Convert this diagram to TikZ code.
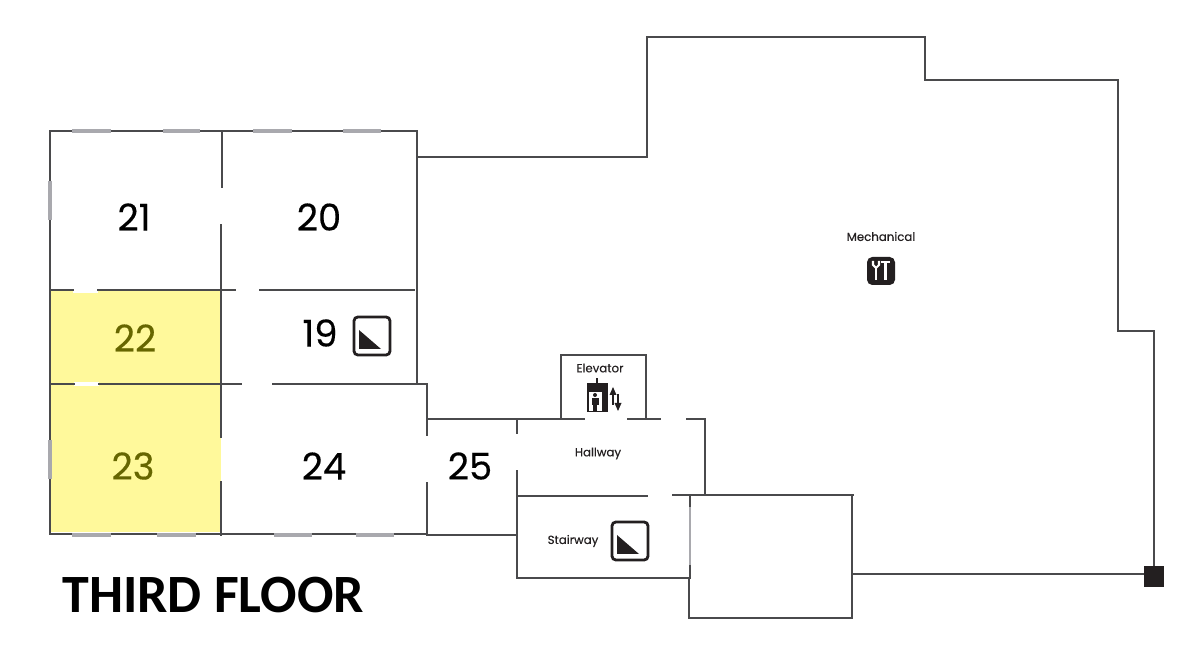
\documentclass[tikz,border=0pt]{standalone}
\usepackage{fontspec}
\setmainfont{Poppins}
\newfontfamily\titlefont{Carlito}
\newfontfamily\tagfont[FakeBold=0.35]{Poppins}
\definecolor{wallgray}{HTML}{4A4A4C}
\definecolor{doorgray}{HTML}{A9A9AE}
\definecolor{roomyellow}{HTML}{FFF99B}
\definecolor{iconblack}{HTML}{231F20}
\tikzset{
wall/.style={wallgray,line width=1.1pt,line cap=rect},
door/.style={doorgray,line width=1.9pt},
room/.style={font=\tagfont\fontsize{21}{21}\selectfont,text=black,inner sep=0pt},
roomlit/.style={room,text={rgb:red,4;green,4;blue,0;black,2}},
tag/.style={font=\tagfont\fontsize{6.7}{8}\selectfont,text=iconblack,inner sep=0pt},
stairicon/.pic={
    \draw[iconblack,line width=1.6pt,rounded corners=2.2pt] (-18,-19) rectangle (18,19);
    \fill[iconblack] (-13,-6) -- (-13,13) -- (9,13) -- cycle;
}
}
\begin{document}
\begin{tikzpicture}[x=0.02cm,y=-0.02cm]
    \useasboundingbox (0,0) rectangle (1200,661);
    %
    \fill[roomyellow] (51,291) rectangle (221,532);
    \fill[white] (73,289) rectangle (98,293);
    \fill[white] (74,382) rectangle (99,386);
    %
    % outer shell, clockwise from room 21
    \draw[wall] (50,533) -- (50,131) -- (417,131) -- (417,384);
    \draw[wall] (417,157) -- (647,157) -- (647,37) -- (925,37) -- (925,80)
    -- (1118,80) -- (1118,331) -- (1154,331) -- (1154,570);
    \draw[wall] (50,534) -- (427,534);
    \draw[wall] (427,535) -- (517,535);
    %
    % inner walls of the left block
    \foreach \xa / \ya / \xb / \yb in {222/131/222/187,221/225/221/437,221/482/221/535,
        50/290/73/290,98/290/235/290,260/290/414/290,
        50/384/74/384,99/384/241/384,273/384/427/384,
        427/384/427/435,427/483/427/535}
    \draw[wall] (\xa,\ya) -- (\xb,\yb);
    %
    % hallway and stairway
    \draw[wall] (427,419) -- (584,419);
    \draw[wall] (628,419) -- (660,419);
    \draw[wall] (687,419) -- (705,419) -- (705,495);
    \draw[wall] (517,419) -- (517,433);
    \draw[wall] (517,471) -- (517,578) -- (689,578);
    \draw[wall] (517,496) -- (647,496);
    \draw[wall] (561,419) -- (561,355) -- (646,355) -- (646,419);
    %
    % annex and east wing
    \draw[wall] (673,495) -- (853,495);
    \draw[wall] (690,495) -- (690,578);
    \draw[wall] (689,578) -- (689,618) -- (852,618) -- (852,495);
    \draw[wall] (852,574) -- (1150,574);
    \fill[iconblack] (1144,566) rectangle (1164,587);
    %
    \foreach \xa / \xb in {72/111,163/200,253/292,343/381}
    \draw[door] (\xa,131) -- (\xb,131);
    \foreach \xa / \xb in {72/111,157/196,274/312,356/394}
    \draw[door] (\xa,535) -- (\xb,535);
    \foreach \ya / \yb in {181/220,440/479}
    \draw[door] (50,\ya) -- (50,\yb);
    \draw[door,line width=1.2pt] (690,507) -- (690,565);
    %
    \node[room](r21) at (134,217) {21};
    \node[room](r20) at (319,217) {20};
    \node[roomlit](r22) at (135,338) {22};
    \node[room](r19) at (320,333) {19};
    \node[roomlit](r23) at (133,466) {23};
    \node[room](r24) at (324,466) {24};
    \node[room](r25) at (470,466) {25};
    %
    \node[tag](mechanical) at (881,236.5) {Mechanical};
    \node[tag](elevator) at (600,368) {Elevator};
    \node[tag](hallway) at (598,453.5) {Hallway};
    \node[tag](stairway) at (573,541) {Stairway};
    \node[anchor=west,inner sep=0pt,font=\titlefont\bfseries\fontsize{30.7}{31}\selectfont](title) at (62,595) {THIRD FLOOR};
    %
    \pic at (372,336) {stairicon};
    \pic at (630,541) {stairicon};
    %
    % mechanical icon
    \fill[iconblack,rounded corners=3pt] (867,257) rectangle (895,285);
    \draw[white,line width=1.4pt] (876,268) -- (876,280);
    \draw[white,line width=1.2pt] (873,261) -- (873,265) -- (876,268) -- (879,265) -- (879,261);
    \draw[white,line width=1.4pt] (885.5,262) -- (885.5,280);
    \draw[white,line width=1.4pt] (881,262) -- (890,262);
    %
    % elevator icon
    \fill[iconblack] (587,383) rectangle (608,412);
    \fill[white] (589,392) rectangle (601.5,411);
    \fill[iconblack] (595,395) circle (2);
    \fill[iconblack] (591.5,398) rectangle (598.5,405);
    \fill[iconblack] (593,405) rectangle (597,411);
    \draw[iconblack,line width=0.8pt] (597,383) -- (597,378);
    \draw[iconblack,line width=1.3pt] (613,405) -- (613,392);
    \fill[iconblack] (613,387) -- (609.5,395) -- (616.5,395) -- cycle;
    \draw[iconblack,line width=1.3pt] (618,394) -- (618,406);
    \fill[iconblack] (618,411) -- (614.5,403) -- (621.5,403) -- cycle;
\end{tikzpicture}
\end{document}
